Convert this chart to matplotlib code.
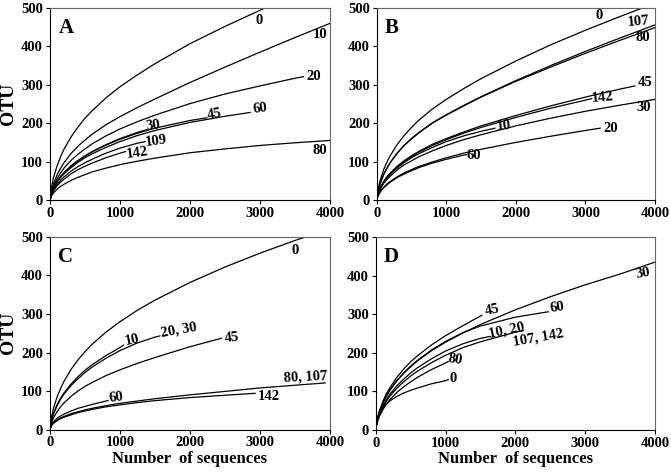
import matplotlib
matplotlib.use("Agg")
import matplotlib.pyplot as plt

plt.rcParams['font.family'] = ['Liberation Serif', 'DejaVu Serif']
plt.rcParams['font.weight'] = 'bold'

seq_grid = [0, 20, 50, 100, 150, 200, 300, 400, 500, 600, 800, 1000,
            1250, 1500, 2000, 2500, 3000, 3500, 4000]

# Panel A: curve names, last x of each curve, OTU values
A_names = ["0", "10", "20", "30", "45", "60", "109", "142", "80"]
A_end = [3070, 4000, 3620, 1380, 2240, 2860, 1360, 1080, 4000]
A_y = [[0, 31, 58, 88, 112, 132, 164, 190, 213, 232, 266, 295, 326, 355, 407, 452, 494, 500],
       [0, 23, 42, 65, 82, 97, 121, 140, 156, 171, 196, 217, 241, 263, 306, 346, 385, 423, 460],
       [0, 20, 36, 55, 70, 83, 103, 119, 133, 146, 167, 185, 204, 221, 251, 276, 297, 317, 321],
       [0, 17, 31, 48, 61, 71, 89, 103, 115, 126, 144, 160, 176, 183],
       [0, 17, 31, 47, 60, 71, 88, 102, 114, 125, 143, 158, 174, 187, 207, 214],
       [0, 16, 30, 46, 58, 68, 84, 98, 110, 120, 137, 152, 168, 181, 202, 218, 228],
       [0, 14, 26, 40, 51, 60, 75, 87, 97, 106, 122, 135, 148, 152],
       [0, 13, 24, 37, 46, 54, 68, 79, 88, 96, 110, 122, 126],
       [0, 10, 18, 28, 35, 41, 51, 59, 66, 73, 83, 92, 101, 109, 123, 133, 142, 149, 155]]

B_names = ["0", "107", "80", "45", "142", "30", "10", "20", "60"]
B_end = [3790, 4000, 4000, 3710, 3090, 4000, 1700, 3210, 1290]
B_y = [[0, 28, 51, 79, 100, 117, 146, 169, 189, 207, 237, 262, 290, 316, 362, 404, 442, 478, 498],
       [0, 23, 43, 67, 84, 99, 123, 143, 160, 175, 201, 222, 246, 269, 311, 350, 387, 422, 456],
       [0, 23, 43, 66, 84, 99, 123, 143, 159, 174, 200, 221, 245, 268, 309, 346, 382, 416, 449],
       [0, 17, 31, 48, 61, 71, 89, 103, 115, 126, 145, 160, 177, 193, 220, 245, 268, 289, 297],
       [0, 17, 31, 47, 60, 70, 87, 101, 113, 124, 142, 157, 174, 189, 215, 239, 260, 264],
       [0, 15, 28, 43, 54, 63, 79, 92, 102, 112, 128, 142, 157, 170, 193, 213, 231, 247, 262],
       [0, 16, 30, 46, 58, 68, 84, 98, 110, 120, 137, 152, 167, 179, 187],
       [0, 12, 22, 33, 42, 49, 61, 71, 79, 87, 99, 110, 122, 132, 150, 166, 181, 187],
       [0, 11, 21, 32, 40, 47, 59, 68, 76, 84, 96, 106, 117, 118]]

C_names = ["0", "10", "20, 30", "45", "80, 107", "142", "60"]
C_end = [3650, 1050, 1570, 2450, 3930, 2930, 830]
C_y = [[0, 30, 55, 84, 106, 125, 156, 181, 202, 221, 253, 280, 310, 336, 382, 422, 458, 491, 500],
       [0, 23, 42, 64, 81, 95, 118, 137, 154, 168, 192, 213, 219],
       [0, 22, 40, 61, 78, 92, 114, 132, 148, 162, 185, 205, 225, 240, 243],
       [0, 16, 30, 46, 59, 69, 86, 100, 112, 122, 140, 155, 172, 187, 215, 237],
       [0, 11, 17, 24, 30, 34, 41, 46, 51, 55, 62, 68, 74, 80, 90, 99, 108, 115, 121],
       [0, 10, 16, 23, 28, 32, 38, 44, 48, 52, 59, 64, 70, 75, 83, 89, 94],
       [0, 12, 20, 29, 35, 40, 48, 55, 60, 65, 74, 75]]

D_names = ["30", "45", "60", "10, 20", "107, 142", "80", "0"]
D_end = [4000, 1520, 2470, 1640, 2115, 1040, 1040]
D_y = [[0, 24, 45, 68, 87, 102, 127, 147, 164, 180, 206, 228, 252, 274, 312, 346, 377, 405, 436],
       [0, 26, 48, 73, 93, 109, 136, 158, 177, 193, 221, 245, 271, 296, 298],
       [0, 24, 45, 69, 87, 103, 128, 148, 166, 181, 208, 230, 253, 270, 293, 307],
       [0, 22, 40, 61, 78, 92, 114, 132, 148, 162, 185, 205, 224, 238, 243],
       [0, 21, 38, 58, 74, 87, 108, 125, 140, 153, 175, 194, 214, 229, 254, 258],
       [0, 18, 34, 52, 66, 78, 97, 112, 125, 137, 157, 174, 178],
       [0, 29, 44, 58, 67, 75, 87, 96, 103, 109, 120, 128, 131]]

# label placement (x, y, rotation) per curve
A_lab = [(2990, 468, 0), (3860, 430, 0), (3760, 321, 0), (1480, 194, 8), (2345, 224, 10),
         (3000, 237, 8), (1510, 154, 8), (1240, 122, 8), (3860, 130, 0)]
B_lab = [(3190, 480, 0), (3760, 464, 5), (3830, 422, 0), (3860, 307, 0), (3240, 268, 5),
         (3830, 240, 0), (1830, 193, 5), (3360, 187, 0), (1400, 117, 0)]
C_lab = [(3500, 464, 0), (1170, 232, 12), (1840, 258, 10), (2590, 239, 5), (3650, 138, 3),
         (3120, 86, 0), (950, 84, 8)]
D_lab = [(3830, 407, 10), (1670, 311, 12), (2600, 318, 8), (1880, 258, 12), (2330, 240, 10),
         (1140, 184, -8), (1110, 134, 0)]

fig = plt.figure(figsize=(6.71, 4.72), dpi=100)
boxes = [(0.0745, 0.5763, 0.4173, 0.4068), (0.5614, 0.5763, 0.4148, 0.4068),
         (0.0745, 0.0900, 0.4173, 0.4079), (0.5599, 0.0890, 0.4163, 0.4079)]
panels = [("A", A_names, A_end, A_y, A_lab), ("B", B_names, B_end, B_y, B_lab),
          ("C", C_names, C_end, C_y, C_lab), ("D", D_names, D_end, D_y, D_lab)]

for box, (letter, names, ends, ys, labs) in zip(boxes, panels):
    ax = fig.add_axes(box)
    for name, end, y, (lx, ly, rot) in zip(names, ends, ys, labs):
        x = [g for g in seq_grid if g < end] + [end]
        ax.plot(x, y, color='black', lw=0.9)
        ax.text(lx, ly, name, ha='center', va='center', rotation=rot,
                fontsize=10.5, fontweight='bold')
    ax.set_xlim(0, 4000)
    ax.set_ylim(0, 500)
    ax.set_xticks([0, 1000, 2000, 3000, 4000])
    ax.set_yticks([0, 100, 200, 300, 400, 500])
    ax.tick_params(direction='out', length=3, width=0.8, labelsize=10.5, pad=2)
    for lab in ax.get_xticklabels() + ax.get_yticklabels():
        lab.set_fontweight('bold')
    for s in ax.spines.values():
        s.set_linewidth(0.8)
        s.set_color('#666666')
    ax.spines['left'].set_color('black')
    ax.spines['bottom'].set_color('black')
    ax.text(0.03, 0.95, letter, transform=ax.transAxes, ha='left', va='top',
            fontsize=15, fontweight='bold')
    if letter in ("A", "C"):
        ax.set_ylabel("OTU", fontsize=14, fontweight='bold', labelpad=3)
    if letter in ("C", "D"):
        ax.set_xlabel("Number  of sequences", fontsize=12, fontweight='bold', labelpad=1)

fig.savefig("out.png", dpi=100)
